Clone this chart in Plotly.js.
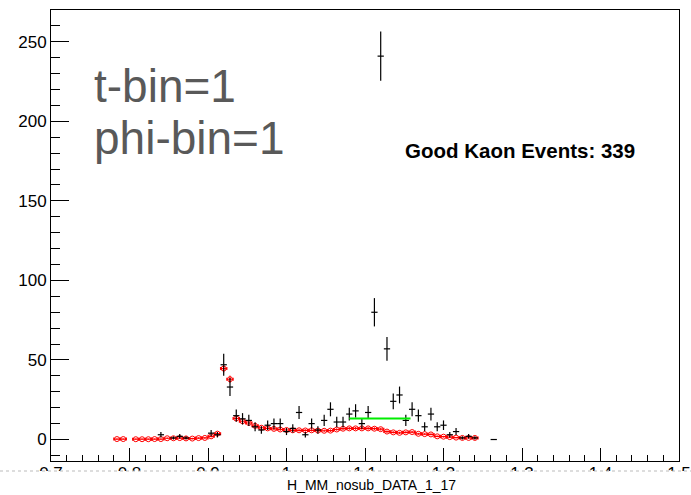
<!DOCTYPE html>
<html>
<head>
<meta charset="utf-8">
<script src="https://cdn.plot.ly/plotly-3.0.1.min.js"></script>
<style>html,body{margin:0;padding:0;background:#fff;}#plot{width:691px;height:495px;}</style>
</head>
<body>
<div id="plot"></div>
<script>
// Black data histogram (bin centers, counts, errors)
const blackX = [0.840, 0.856, 0.864, 0.872, 0.904, 0.912, 0.920, 0.928, 0.936, 0.944, 0.952, 0.960, 0.968, 0.976, 0.984, 0.992,
  1.000, 1.008, 1.016, 1.024, 1.032, 1.040, 1.048, 1.056, 1.064, 1.072, 1.080, 1.088, 1.096, 1.104, 1.112, 1.120, 1.128,
  1.136, 1.144, 1.152, 1.160, 1.168, 1.176, 1.184, 1.192, 1.200, 1.208, 1.216, 1.224, 1.232, 1.240, 1.264];
const blackY = [3, 1, 2, 1, 4, 3, 47, 33, 15, 13, 12, 8, 6, 9, 10, 10,
  5, 7, 17, 3, 10, 6, 12, 19, 11, 11, 16, 18, 10, 17, 80, 241, 57,
  24, 28, 12, 19, 15, 8, 16, 8, 9, 3, 5, 1, 2, 1, 0];
const blackErr = [1.7, 1.0, 1.4, 1.0, 2.0, 1.7, 6.9, 5.7, 3.9, 3.6, 3.5, 2.8, 2.4, 3.0, 3.2, 3.2,
  2.2, 2.6, 4.1, 1.7, 3.2, 2.4, 3.5, 4.4, 3.3, 3.3, 4.0, 4.2, 3.2, 4.1, 8.9, 15.5, 7.5,
  4.9, 5.3, 3.5, 4.4, 3.9, 2.8, 4.0, 2.8, 3.0, 1.7, 2.2, 1.0, 1.4, 1.0, 0];
const blackHalfBin = 0.004;

// Red simulation histogram
const redX = [0.784, 0.792, 0.808, 0.816, 0.824, 0.832, 0.840, 0.848, 0.856, 0.864, 0.872, 0.880, 0.888, 0.896, 0.904, 0.912,
  0.920, 0.928, 0.936, 0.944, 0.952, 0.960, 0.968, 0.976, 0.984, 0.992, 1.000, 1.008, 1.016, 1.024, 1.032, 1.040,
  1.048, 1.056, 1.064, 1.072, 1.080, 1.088, 1.096, 1.104, 1.112, 1.120, 1.128, 1.136, 1.144, 1.152, 1.160, 1.168,
  1.176, 1.184, 1.192, 1.200, 1.208, 1.216, 1.224, 1.232, 1.240];
const redY = [0.3, 0.3, 0.2, 0.2, 0.2, 0.3, 0.3, 0.8, 0.8, 0.9, 0.7, 0.6, 0.9, 1.0, 2.0, 3.7,
  44.6, 37.9, 13.2, 11.5, 10.4, 8.6, 7.4, 7.0, 6.7, 6.3, 6.0, 5.8, 5.8, 5.7, 5.8, 5.6,
  5.5, 5.6, 6.3, 6.8, 7.0, 7.0, 7.0, 7.0, 6.8, 6.5, 5.0, 4.5, 4.2, 4.5, 4.7, 3.6,
  3.4, 3.2, 2.0, 1.8, 1.5, 1.2, 1.0, 1.0, 1.0];
const redErr = [0.3, 0.3, 0.3, 0.3, 0.3, 0.3, 0.3, 0.5, 0.5, 0.5, 0.5, 0.5, 0.5, 0.5, 0.7, 1.0,
  2.5, 2.3, 1.2, 1.1, 1.0, 1.0, 0.9, 0.9, 0.9, 0.9, 0.8, 0.8, 0.8, 0.8, 0.8, 0.8,
  0.8, 0.8, 0.8, 0.9, 0.9, 0.9, 0.9, 0.9, 0.9, 0.9, 0.8, 0.7, 0.7, 0.7, 0.7, 0.6,
  0.6, 0.6, 0.5, 0.5, 0.5, 0.4, 0.4, 0.4, 0.4];

// Green fit line
const greenX = [1.080, 1.158];
const greenY = [13.2, 13.2];

// Texts
const xTitle = "H_MM_nosub_DATA_1_17";
const label1 = "t-bin=1";
const label2 = "phi-bin=1";
const label3 = "Good Kaon Events: 339";

const FONT = "Liberation Sans, Arial, Helvetica, sans-serif";
const constArr = (arr, v) => arr.map(() => v);

const traces = [
  {
    x: redX, y: redY, type: 'scatter', mode: 'markers',
    marker: {symbol: 'circle-open', size: 5, color: '#ff0000', line: {width: 1, color: '#ff0000'}},
    error_y: {type: 'data', array: redErr, visible: true, color: '#ff0000', thickness: 1, width: 0},
    error_x: {type: 'data', array: constArr(redX, blackHalfBin), visible: true, color: '#ff0000', thickness: 1.2, width: 1.5},
    hoverinfo: 'skip'
  },
  {
    x: blackX, y: blackY, type: 'scatter', mode: 'markers',
    marker: {size: 2, color: 'rgba(0,0,0,0)'},
    error_y: {type: 'data', array: blackErr, visible: true, color: '#000', thickness: 1.2, width: 0},
    error_x: {type: 'data', array: constArr(blackX, blackHalfBin), visible: true, color: '#000', thickness: 1.2, width: 0},
    hoverinfo: 'skip'
  },
  {
    x: greenX, y: greenY, type: 'scatter', mode: 'lines',
    line: {color: '#00ee00', width: 2}, hoverinfo: 'skip'
  }
];

const layout = {
  width: 691, height: 495,
  margin: {l: 51, r: 12, t: 10, b: 34},
  paper_bgcolor: '#fff', plot_bgcolor: '#fff',
  showlegend: false,
  font: {family: FONT, color: '#000'},
  xaxis: {
    range: [0.7, 1.5], dtick: 0.1, tick0: 0.7,
    ticks: 'inside', ticklen: 13, tickwidth: 1, tickcolor: '#000',
    minor: {dtick: 0.02, ticks: 'inside', ticklen: 6, tickcolor: '#000', tickwidth: 1},
    showline: true, mirror: true, linecolor: '#000', linewidth: 1,
    showgrid: false, zeroline: false,
    ticklabelstandoff: -3,
    tickfont: {size: 17, family: FONT, color: '#000'}
  },
  yaxis: {
    range: [-13.5, 270], dtick: 50, tick0: 0,
    ticks: 'inside', ticklen: 18, tickwidth: 1, tickcolor: '#000',
    minor: {dtick: 10, ticks: 'inside', ticklen: 9, tickcolor: '#000', tickwidth: 1},
    showline: true, mirror: true, linecolor: '#000', linewidth: 1,
    showgrid: false, zeroline: false,
    tickfont: {size: 17, family: FONT, color: '#000'}
  },
  shapes: [
    {type: 'rect', xref: 'paper', yref: 'paper', x0: -0.1, x1: 1.05, y0: -0.0222, y1: -0.1,
     fillcolor: '#fff', line: {width: 0}, layer: 'above'},
    {type: 'line', xref: 'paper', yref: 'paper', x0: -0.0812, x1: 1.02, y0: -0.0222, y1: -0.0222,
     line: {color: '#bbbbbb', width: 1, dash: 'dot'}, layer: 'above'}
  ],
  annotations: [
    {text: label1, xref: 'paper', yref: 'paper', x: 0.066, y: 0.831, xanchor: 'left', yanchor: 'middle',
     showarrow: false, font: {size: 46, family: FONT, color: '#595959'}},
    {text: label2, xref: 'paper', yref: 'paper', x: 0.066, y: 0.716, xanchor: 'left', yanchor: 'middle',
     showarrow: false, font: {size: 46, family: FONT, color: '#595959'}},
    {text: '<b>' + label3 + '</b>', xref: 'paper', yref: 'paper', x: 0.561, y: 0.689, xanchor: 'left', yanchor: 'middle',
     showarrow: false, font: {size: 20.5, family: FONT, color: '#000'}},
    {text: xTitle, xref: 'paper', yref: 'paper', x: 0.511, y: -0.053, xanchor: 'center', yanchor: 'middle',
     showarrow: false, font: {size: 14, family: FONT, color: '#000'}}
  ]
};

Plotly.newPlot('plot', traces, layout, {staticPlot: true, displayModeBar: false});
</script>
</body>
</html>
